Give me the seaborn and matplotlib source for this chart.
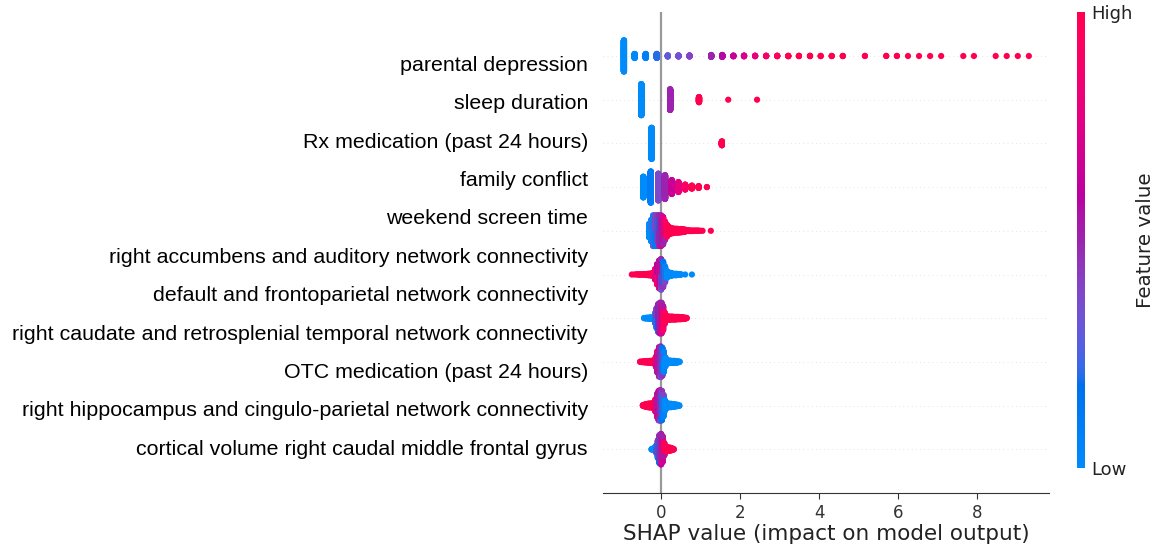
import numpy as np
import pandas as pd
import matplotlib
matplotlib.use("Agg")
import matplotlib.pyplot as plt
import seaborn as sns
from matplotlib.colors import LinearSegmentedColormap, Normalize
from matplotlib.cm import ScalarMappable

# ---------------- data ----------------
labels = [
    "parental depression",
    "sleep duration",
    "Rx medication (past 24 hours)",
    "family conflict",
    "weekend screen time",
    "right accumbens and auditory network connectivity",
    "default and frontoparietal network connectivity",
    "right caudate and retrosplenial temporal network connectivity",
    "OTC medication (past 24 hours)",
    "right hippocampus and cingulo-parietal network connectivity",
    "cortical volume right caudal middle frontal gyrus",
]

# dot rows, top to bottom: SHAP value, number of points, feature value (0=low, 1=high)
r0_shap = [-0.94, -0.67, -0.39, -0.11, 0.17, 0.44, 0.72, 1.27, 1.55, 1.83, 2.10, 2.38, 2.66, 2.94,
           3.22, 3.49, 3.77, 4.04, 4.32, 4.60, 5.16, 5.70, 5.97, 6.25, 6.53, 6.81, 7.09, 7.65,
           7.92, 8.47, 8.75, 9.03, 9.31]
r0_count = [300, 40, 40, 40, 12, 12, 12, 20, 20, 8, 8, 6, 6, 6,
            5, 4, 4, 3, 3, 3, 2, 2, 2, 1, 1, 1, 1, 1,
            1, 1, 1, 1, 1]
r0_fval = [0.0, 0.03, 0.08, 0.2, 0.3, 0.35, 0.4, 0.5, 0.58, 0.65, 0.72, 0.8, 0.88, 0.95,
           1, 1, 1, 1, 1, 1, 1, 1, 1, 1, 1, 1, 1, 1,
           1, 1, 1, 1, 1]

r1_shap = [-0.50, 0.23, 0.96, 1.70, 2.43]
r1_count = [300, 200, 50, 1, 1]
r1_fval = [0.0, 0.5, 1.0, 1.0, 1.0]

r2_shap = [-0.24, 1.54]
r2_count = [300, 38]
r2_fval = [0.0, 1.0]

r3_shap = [-0.45, -0.26, -0.07, 0.10, 0.27, 0.44, 0.61, 0.78, 0.95, 1.16]
r3_count = [200, 300, 258, 229, 134, 96, 48, 29, 18, 2]
r3_fval = [0.0, 0.1, 0.38, 0.5, 0.65, 0.8, 0.92, 1, 1, 1]

r4_shap = [-0.30, -0.25, -0.25, -0.20, -0.20, -0.15, -0.15, -0.10, -0.10, -0.05, -0.05,
           0.00, 0.00, 0.00, 0.05, 0.05, 0.10, 0.10, 0.15, 0.20, 0.25, 0.30, 0.35, 0.40,
           0.45, 0.50, 0.55, 0.60, 0.65, 0.70, 0.75, 0.80, 0.85, 0.90, 0.95, 1.00, 1.05, 1.26]
r4_count = [54, 70, 14, 80, 40, 60, 60, 50, 70, 30, 90,
            20, 60, 40, 40, 68, 20, 52, 46, 30, 23, 19, 16, 16,
            15, 14, 12, 10, 4, 4, 3, 3, 2, 2, 2, 1, 1, 1]
r4_fval = [0.0, 0.0, 0.3, 0.05, 0.3, 0.1, 0.4, 0.1, 0.45, 0.15, 0.5,
           0.15, 0.5, 0.7, 0.5, 0.75, 0.5, 0.9, 0.95, 1, 1, 1, 1, 1,
           1, 1, 1, 1, 1, 1, 1, 1, 1, 1, 1, 1, 1, 1]

r5_shap = [-0.74, -0.68, -0.62, -0.56, -0.50, -0.44, -0.38, -0.32, -0.26, -0.20,
           -0.15, -0.15, -0.10, -0.10, -0.05, -0.05, -0.05, 0.00, 0.00, 0.00,
           0.05, 0.05, 0.10, 0.10, 0.15, 0.20, 0.26, 0.32, 0.38, 0.44, 0.50, 0.61, 0.78]
r5_count = [1, 1, 2, 3, 3, 4, 5, 7, 9, 14,
            30, 12, 40, 40, 30, 50, 28, 30, 60, 30,
            40, 60, 20, 42, 26, 16, 12, 7, 7, 4, 3, 1, 1]
r5_fval = [1, 1, 1, 1, 1, 1, 1, 1, 1, 0.95,
           0.9, 0.7, 0.85, 0.6, 0.8, 0.55, 0.7, 0.7, 0.5, 0.35,
           0.45, 0.15, 0.4, 0.05, 0, 0, 0, 0, 0, 0, 0, 0, 0]

r6_shap = [-0.43, -0.39, -0.35, -0.31, -0.27, -0.23, -0.19, -0.15, -0.15, -0.11, -0.11,
           -0.07, -0.07, -0.07, -0.03, -0.03, -0.03, 0.01, 0.01, 0.01, 0.05, 0.05, 0.09,
           0.13, 0.17, 0.21, 0.25, 0.29, 0.33, 0.37, 0.41, 0.45, 0.49, 0.53, 0.57, 0.61, 0.65]
r6_count = [2, 3, 4, 5, 6, 7, 9, 30, 10, 40, 40,
            35, 50, 25, 25, 60, 35, 50, 40, 30, 25, 70, 45,
            17, 14, 13, 12, 12, 11, 11, 10, 10, 9, 8, 7, 5, 2]
r6_fval = [0, 0, 0, 0, 0, 0, 0, 0.05, 0.4, 0.1, 0.45,
           0.15, 0.5, 0.6, 0.2, 0.5, 0.65, 0.5, 0.7, 0.9, 0.55, 0.9, 0.95,
           1, 1, 1, 1, 1, 1, 1, 1, 1, 1, 1, 1, 1, 1]

r7_shap = [-0.53, -0.49, -0.45, -0.41, -0.37, -0.33, -0.29, -0.25, -0.21, -0.17,
           -0.13, -0.13, -0.09, -0.09, -0.05, -0.05, -0.05, -0.01, -0.01, -0.01,
           0.03, 0.03, 0.07, 0.07, 0.11, 0.15, 0.19, 0.23, 0.27, 0.31, 0.35, 0.39, 0.43, 0.47]
r7_count = [2, 3, 4, 5, 6, 7, 8, 9, 10, 12,
            25, 15, 35, 50, 25, 60, 30, 20, 70, 30,
            50, 60, 20, 60, 35, 14, 11, 10, 9, 9, 8, 7, 5, 2]
r7_fval = [1, 1, 1, 1, 1, 1, 1, 1, 1, 1,
           0.95, 0.7, 0.85, 0.55, 0.8, 0.5, 0.65, 0.7, 0.5, 0.35,
           0.45, 0.15, 0.4, 0.05, 0, 0, 0, 0, 0, 0, 0, 0, 0, 0]

r8_shap = [-0.46, -0.42, -0.38, -0.34, -0.30, -0.26, -0.22, -0.18,
           -0.14, -0.14, -0.10, -0.10, -0.06, -0.06, -0.06, -0.02, -0.02, -0.02,
           0.02, 0.02, 0.06, 0.06, 0.10, 0.14, 0.18, 0.22, 0.26, 0.30, 0.34, 0.38, 0.42, 0.46]
r8_count = [4, 8, 12, 14, 16, 16, 18, 20,
            35, 15, 35, 55, 20, 60, 35, 25, 65, 30,
            55, 60, 25, 60, 40, 20, 16, 14, 14, 12, 10, 8, 6, 3]
r8_fval = [1, 1, 1, 1, 1, 1, 1, 1,
           0.95, 0.7, 0.85, 0.55, 0.8, 0.5, 0.65, 0.7, 0.5, 0.35,
           0.45, 0.15, 0.4, 0.05, 0, 0, 0, 0, 0, 0, 0, 0, 0, 0]

r9_shap = [-0.24, -0.20, -0.16, -0.12, -0.12, -0.08, -0.08, -0.04, -0.04, -0.04,
           0.00, 0.00, 0.00, 0.04, 0.04, 0.04, 0.08, 0.08, 0.12, 0.16, 0.20, 0.24, 0.28, 0.32]
r9_count = [3, 6, 14, 20, 10, 30, 40, 30, 55, 25,
            20, 70, 30, 50, 30, 20, 15, 35, 22, 16, 14, 12, 8, 3]
r9_fval = [0, 0, 0, 0.05, 0.4, 0.1, 0.45, 0.15, 0.5, 0.35,
           0.2, 0.5, 0.65, 0.5, 0.7, 0.9, 0.55, 0.95, 1, 1, 1, 1, 1, 1]

rows = [
    (r0_shap, r0_count, r0_fval), (r1_shap, r1_count, r1_fval),
    (r2_shap, r2_count, r2_fval), (r3_shap, r3_count, r3_fval),
    (r4_shap, r4_count, r4_fval), (r5_shap, r5_count, r5_fval),
    (r6_shap, r6_count, r6_fval), (r7_shap, r7_count, r7_fval),
    (r8_shap, r8_count, r8_fval), (r9_shap, r9_count, r9_fval),
]

# ---------------- SHAP red-blue colormap (LCH interpolation) ----------------
def lch2rgb(l, c, h):
    a = c * np.cos(h)
    b = c * np.sin(h)
    fy = (l + 16.0) / 116.0
    fx = fy + a / 500.0
    fz = fy - b / 200.0

    def finv(t):
        t3 = t ** 3
        return np.where(t3 > 0.008856, t3, (t - 16.0 / 116.0) / 7.787)

    xyz = np.array([0.95047 * finv(fx), finv(fy), 1.08883 * finv(fz)])
    m = np.array([[3.2406, -1.5372, -0.4986],
                  [-0.9689, 1.8758, 0.0415],
                  [0.0557, -0.2040, 1.0570]])
    rgb = m @ xyz
    rgb = np.where(rgb > 0.0031308, 1.055 * np.abs(rgb) ** (1 / 2.4) - 0.055, 12.92 * rgb)
    return np.clip(rgb, 0, 1)

nsteps = 100
l_vals = list(np.linspace(54.0, 40.0, nsteps // 2)) + list(np.linspace(40.0, 54.0, nsteps // 2))
c_vals = np.linspace(70.0, 90.0, nsteps)
h_vals = np.linspace(4.6588, 0.35470565 + 2 * np.pi, nsteps)
cmap_colors = [lch2rgb(l, c, h) for l, c, h in zip(l_vals, c_vals, h_vals)]
red_blue = LinearSegmentedColormap.from_list("red_blue", cmap_colors)

# ---------------- beeswarm layout (SHAP style stacking) ----------------
def beeswarm(shaps, keys, row_height=0.4, nbins=100):
    quant = np.round(nbins * (shaps - shaps.min()) / (shaps.max() - shaps.min() + 1e-8))
    inds = np.lexsort((keys, quant))
    ys = np.zeros(len(shaps))
    layer, last_bin = 0, -1
    for i in inds:
        if quant[i] != last_bin:
            layer = 0
        ys[i] = np.ceil(layer / 2) * ((layer % 2) * 2 - 1)
        layer += 1
        last_bin = quant[i]
    ys *= 0.9 * (row_height / np.max(ys + 1))
    return ys, inds

n_rows = len(rows)
frames = []
for k, (sv, cnt, fv) in enumerate(rows):
    x = np.repeat(np.asarray(sv, float), cnt)
    c = np.repeat(np.asarray(fv, float), cnt)
    keys = np.concatenate([(np.arange(n) + 0.5) / n for n in cnt])
    ys, order = beeswarm(x, keys)
    pos = n_rows - 1 - k
    frames.append(pd.DataFrame({"shap": x[order], "y": pos + ys[order], "fval": c[order]}))
df = pd.concat(frames, ignore_index=True)

# ---------------- figure ----------------
W, H = 1153, 549
fig = plt.figure(figsize=(W / 100, H / 100), dpi=100)
ax = fig.add_axes([603 / W, 1 - 493 / H, (1049 - 603) / W, (493 - 12.3) / H])

for y in range(n_rows):
    ax.axhline(y=y, color="#cccccc", lw=0.5, dashes=(1, 5), zorder=-1)
ax.axvline(x=0, color="#999999", lw=1.6, zorder=-1)

sns.scatterplot(data=df, x="shap", y="y", hue="fval", palette=red_blue, hue_norm=(0, 1),
                s=20, linewidth=0, alpha=1, legend=False, ax=ax, zorder=3)

ax.set_xlim(-1.47, 9.82)
ax.set_ylim(-1, n_rows)
ax.set_xticks([0, 2, 4, 6, 8])
for side in ["top", "right", "left"]:
    ax.spines[side].set_visible(False)
ax.spines["bottom"].set_color("#333333")
ax.tick_params(axis="x", color="#333333", labelcolor="#333333", labelsize=12, length=4.5)
ax.set_xlabel("SHAP value (impact on model output)", fontsize=15.5, color="#222222", labelpad=1.5)
ax.set_ylabel("")

label_pos = [8.833 - 0.8787 * j for j in range(len(labels))]
ax.set_yticks(label_pos)
ax.set_yticklabels(labels, fontsize=15.4, family="Liberation Sans", color="black")
ax.tick_params(axis="y", length=0, pad=10.8)

cax = fig.add_axes([1077 / W, 1 - 468 / H, 8 / W, (468 - 12.3) / H])
sm = ScalarMappable(cmap=red_blue, norm=Normalize(0, 1))
cb = fig.colorbar(sm, cax=cax, ticks=[0, 1])
cb.set_ticklabels(["Low", "High"])
cb.ax.tick_params(labelsize=13, length=0, pad=4.8, labelcolor="#222222")
cb.set_label("Feature value", size=14.3, labelpad=2, color="#222222")
cb.outline.set_visible(False)

fig.savefig("out.png", dpi=100)
